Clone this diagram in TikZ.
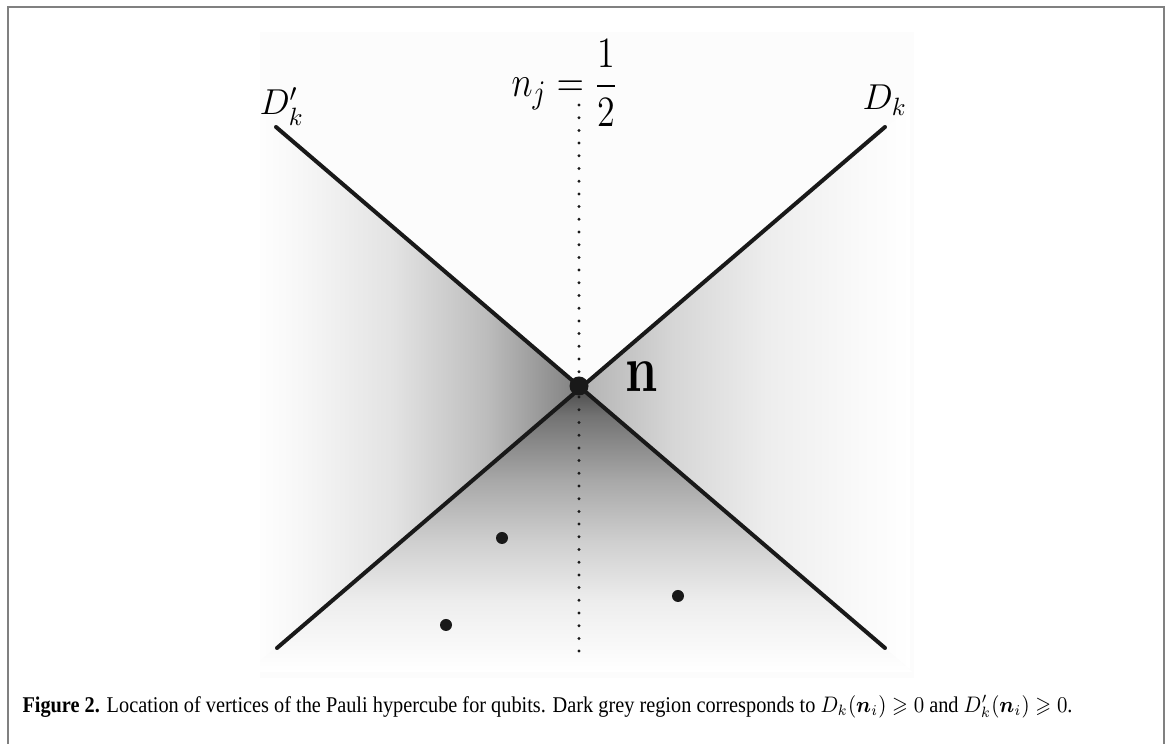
\documentclass[tikz,border=0pt]{standalone}
\usepackage{amsmath}
\usepackage{amssymb}
\usepackage{bm}
\usepackage[no-math]{fontspec}
\setmainfont{Liberation Serif}
\usetikzlibrary{calc}
\pgfdeclareverticalshading{botwedge}{100bp}{color(0bp)=(white); color(25bp)=(white); color(28.7bp)=(black!2); color(37.4bp)=(black!7); color(47.9bp)=(black!19); color(58.4bp)=(black!34); color(69.8bp)=(black!55); color(75bp)=(black!72); color(100bp)=(black!72)}
\pgfdeclarehorizontalshading{leftwedge}{100bp}{color(0bp)=(white); color(25bp)=(white); color(32.4bp)=(black!3); color(46.6bp)=(black!11); color(60.8bp)=(black!26); color(75bp)=(black!50); color(100bp)=(black!50)}
\pgfdeclarehorizontalshading{rightwedge}{100bp}{color(0bp)=(black!30); color(25bp)=(black!30); color(39.2bp)=(black!16); color(53.4bp)=(black!7); color(67.6bp)=(black!2); color(75bp)=(white); color(100bp)=(white)}
\tikzset{
  hline/.style={line width=1.6pt, line cap=round, black!90},
  dotline/.style={line width=1.3pt, line cap=round, dash pattern=on 0pt off 5.08pt, black!90},
  bigdot/.style={circle, fill=black!90, inner sep=0pt, minimum size=7.6pt},
  smalldot/.style={circle, fill=black!90, inner sep=0pt, minimum size=4.8pt},
  lab/.style={inner sep=0pt, anchor=base west},
  frameline/.style={line width=0.6pt, black!50}
}
\begin{document}
\begin{tikzpicture}[x=0.4pt, y=-0.4pt]
\useasboundingbox (0,0) rectangle (1169,744);
% frame
\draw[frameline] (8,744) -- (8,7) -- (1164,7) -- (1164,744);
% faint background
\fill[black!1] (260,32) rectangle (914,678);
\coordinate (C) at (580,386);
% shadings
\begin{scope}
  \clip (260,32) rectangle (914,678);
  \begin{scope}
    \clip (C) -- ($(C)+(-400,-342)$) -- ($(C)+(-400,344)$) -- cycle;
    \shade[shading=leftwedge] (250,0) rectangle (580,744);
  \end{scope}
  \begin{scope}
    \clip (C) -- ($(C)+(400,-338)$) -- ($(C)+(400,344)$) -- cycle;
    \shade[shading=rightwedge] (580,0) rectangle (910,744);
  \end{scope}
  \begin{scope}
    \clip (C) -- ($(C)+(-400,344)$) -- ($(C)+(400,344)$) -- cycle;
    \shade[shading=botwedge] (200,386) rectangle (960,672);
  \end{scope}
\end{scope}
% lines
\coordinate (DpTop) at (276,127);
\coordinate (DpBot) at (885,648);
\coordinate (DTop) at (885,127);
\coordinate (DBot) at (277,648);
\coordinate (VTop) at (579,105);
\coordinate (VBot) at (579,663);
\draw[dotline] (VTop) -- (VBot);
\draw[hline] (DpTop) -- (DpBot);
\draw[hline] (DTop) -- (DBot);
\node[bigdot] (n) at (579,386) {};
\node[smalldot] (p1) at (502,538) {};
\node[smalldot] (p2) at (446,625) {};
\node[smalldot] (p3) at (678,596) {};
% labels
\node[lab] (lDp) at (259,115) {\fontsize{14.5}{17}\selectfont $D'_k$};
\node[lab] (lD) at (862,110) {\fontsize{14.5}{17}\selectfont $D_k$};
\node[lab] (lnj) at (511,97) {\scalebox{1}[1.2]{\fontsize{15.5}{19}\selectfont $n_j = \dfrac{1}{2}$}};
\node[lab] (ln) at (625,392) {\scalebox{1}[1.28]{\fontsize{22.5}{27}\selectfont $\mathbf{n}$}};
% caption
\node[lab] (cap) at (22,713) {\resizebox{420pt}{\height}{\fontsize{9}{11}\selectfont \textbf{Figure 2.} Location of vertices of the Pauli hypercube for qubits. Dark grey region corresponds to $D_k(\bm{n}_i) \geqslant 0$ and $D'_k(\bm{n}_i) \geqslant 0$.}};
\end{tikzpicture}
\end{document}
